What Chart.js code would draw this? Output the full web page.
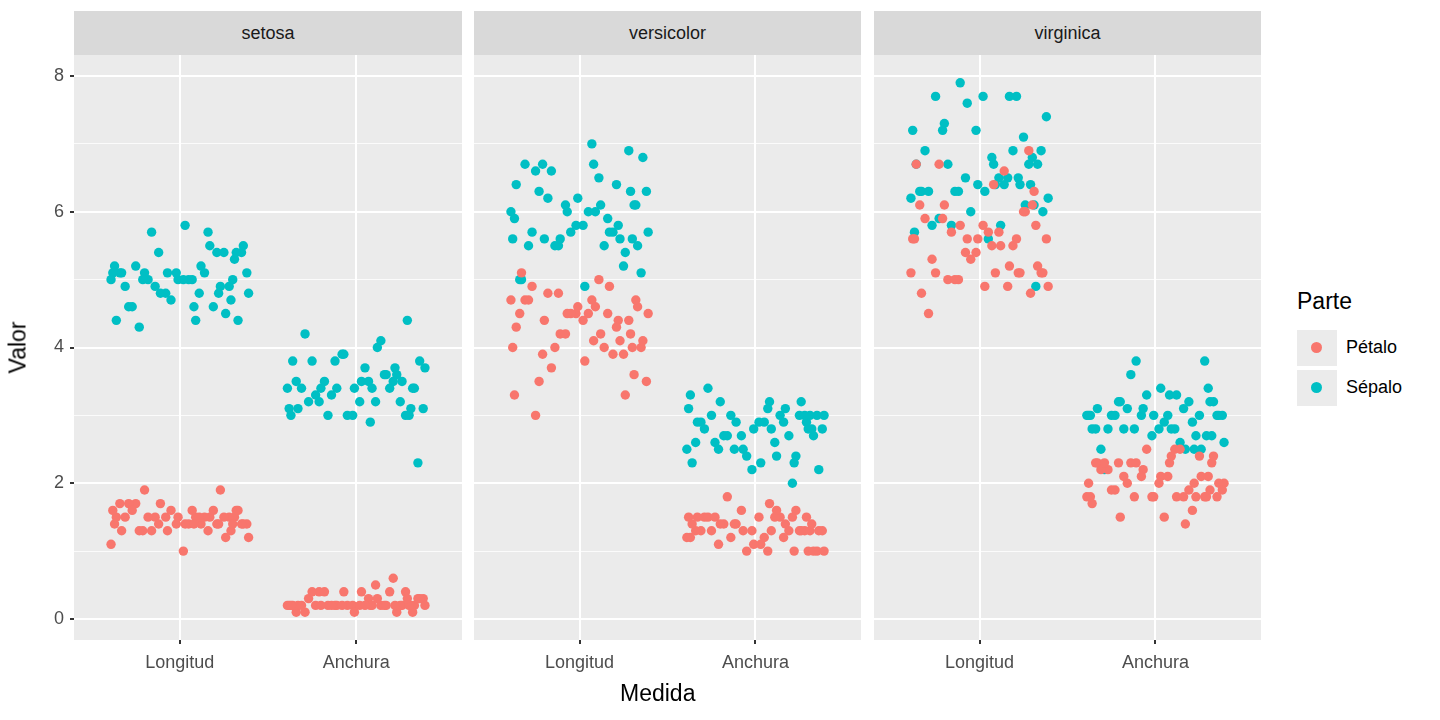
<!DOCTYPE html>
<html>
<head>
<meta charset="utf-8">
<script src="https://cdn.jsdelivr.net/npm/chart.js@4"></script>
<style>
  body { margin: 0; width: 1440px; height: 720px; background: #fff; font-family: Arial, "Liberation Sans", sans-serif; position: relative; overflow: hidden; }
  .panel { position: absolute; top: 55px; height: 635px; }
  .strip { position: absolute; top: 11px; height: 44px; background: #D9D9D9; color: #1A1A1A; font-size: 18px; line-height: 44px; text-align: center; }
  .title { position: absolute; color: #000; font-size: 23px; }
  .key { position: absolute; left: 1297px; width: 40px; height: 36px; background: #EBEBEB; }
  .key span { position: absolute; left: 14px; top: 12px; width: 11px; height: 11px; border-radius: 50%; }
  .klab { position: absolute; left: 1346px; font-size: 18px; color: #000; }
</style>
</head>
<body>
<div class="strip" style="left:74px;width:388px">setosa</div>
<div class="strip" style="left:474px;width:387px">versicolor</div>
<div class="strip" style="left:874px;width:387px">virginica</div>
<canvas id="p0" class="panel" style="left:0;width:462px"></canvas>
<canvas id="p1" class="panel" style="left:474px;width:387px"></canvas>
<canvas id="p2" class="panel" style="left:874px;width:387px"></canvas>
<div class="title" style="left:620px;top:680px">Medida</div>
<div class="title" style="left:-8px;top:334px;transform:rotate(-90deg)">Valor</div>
<div class="title" style="left:1297px;top:288px">Parte</div>
<div class="key" style="top:330px"><span style="background:#F8766D"></span></div>
<div class="key" style="top:370px"><span style="background:#00BFC4"></span></div>
<div class="klab" style="top:337px">Pétalo</div>
<div class="klab" style="top:377px">Sépalo</div>
<script>
const SPECIES = ['setosa', 'versicolor', 'virginica'];
const MEASURES = ['Longitud', 'Anchura'];
const PETAL_COLOR = '#F8766D';
const SEPAL_COLOR = '#00BFC4';

const sepalLength = [
  [5.1,4.9,4.7,4.6,5.0,5.4,4.6,5.0,4.4,4.9,5.4,4.8,4.8,4.3,5.8,5.7,5.4,5.1,5.7,5.1,5.4,5.1,4.6,5.1,4.8,5.0,5.0,5.2,5.2,4.7,4.8,5.4,5.2,5.5,4.9,5.0,5.5,4.9,4.4,5.1,5.0,4.5,4.4,5.0,5.1,4.8,5.1,4.6,5.3,5.0],
  [7.0,6.4,6.9,5.5,6.5,5.7,6.3,4.9,6.6,5.2,5.0,5.9,6.0,6.1,5.6,6.7,5.6,5.8,6.2,5.6,5.9,6.1,6.3,6.1,6.4,6.6,6.8,6.7,6.0,5.7,5.5,5.5,5.8,6.0,5.4,6.0,6.7,6.3,5.6,5.5,5.5,6.1,5.8,5.0,5.6,5.7,5.7,6.2,5.1,5.7],
  [6.3,5.8,7.1,6.3,6.5,7.6,4.9,7.3,6.7,7.2,6.5,6.4,6.8,5.7,5.8,6.4,6.5,7.7,7.7,6.0,6.9,5.6,7.7,6.3,6.7,7.2,6.2,6.1,6.4,7.2,7.4,7.9,6.4,6.3,6.1,7.7,6.3,6.4,6.0,6.9,6.7,6.9,5.8,6.8,6.7,6.7,6.3,6.5,6.2,5.9]
];
const sepalWidth = [
  [3.5,3.0,3.2,3.1,3.6,3.9,3.4,3.4,2.9,3.1,3.7,3.4,3.0,3.0,4.0,4.4,3.9,3.5,3.8,3.8,3.4,3.7,3.6,3.3,3.4,3.0,3.4,3.5,3.4,3.2,3.1,3.4,4.1,4.2,3.1,3.2,3.5,3.6,3.0,3.4,3.5,2.3,3.2,3.5,3.8,3.0,3.8,3.2,3.7,3.3],
  [3.2,3.2,3.1,2.3,2.8,2.8,3.3,2.4,2.9,2.7,2.0,3.0,2.2,2.9,2.9,3.1,3.0,2.7,2.2,2.5,3.2,2.8,2.5,2.8,2.9,3.0,2.8,3.0,2.9,2.6,2.4,2.4,2.7,2.7,3.0,3.4,3.1,2.3,3.0,2.5,2.6,3.0,2.6,2.3,2.7,3.0,2.9,2.9,2.5,2.8],
  [3.3,2.7,3.0,2.9,3.0,3.0,2.5,2.9,2.5,3.6,3.2,2.7,3.0,2.5,2.8,3.2,3.0,3.8,2.6,2.2,3.2,2.8,2.8,2.7,3.3,3.2,2.8,3.0,2.8,3.0,2.8,3.8,2.8,2.8,2.6,3.0,3.4,3.1,3.0,3.1,3.1,3.1,2.7,3.2,3.3,3.0,2.5,3.0,3.4,3.0]
];
const petalLength = [
  [1.4,1.4,1.3,1.5,1.4,1.7,1.4,1.5,1.4,1.5,1.5,1.6,1.4,1.1,1.2,1.5,1.3,1.4,1.7,1.5,1.7,1.5,1.0,1.7,1.9,1.6,1.6,1.5,1.4,1.6,1.6,1.5,1.5,1.4,1.5,1.2,1.3,1.4,1.3,1.5,1.3,1.3,1.3,1.6,1.9,1.4,1.6,1.4,1.5,1.4],
  [4.7,4.5,4.9,4.0,4.6,4.5,4.7,3.3,4.6,3.9,3.5,4.2,4.0,4.7,3.6,4.4,4.5,4.1,4.5,3.9,4.8,4.0,4.9,4.7,4.3,4.4,4.8,5.0,4.5,3.5,3.8,3.7,3.9,5.1,4.5,4.5,4.7,4.4,4.1,4.0,4.4,4.6,4.0,3.3,4.2,4.2,4.2,4.3,3.0,4.1],
  [6.0,5.1,5.9,5.6,5.8,6.6,4.5,6.3,5.8,6.1,5.1,5.3,5.5,5.0,5.1,5.3,5.5,6.7,6.9,5.0,5.7,4.9,6.7,4.9,5.7,6.0,4.8,4.9,5.6,5.8,6.1,6.4,5.6,5.1,5.6,6.1,5.6,5.5,4.8,5.4,5.6,5.1,5.1,5.9,5.7,5.2,5.0,5.2,5.4,5.1]
];
const petalWidth = [
  [0.2,0.2,0.2,0.2,0.2,0.4,0.3,0.2,0.2,0.1,0.2,0.2,0.1,0.1,0.2,0.4,0.4,0.3,0.3,0.3,0.2,0.4,0.2,0.5,0.2,0.2,0.4,0.2,0.2,0.2,0.2,0.4,0.1,0.2,0.2,0.2,0.2,0.1,0.2,0.2,0.3,0.3,0.2,0.6,0.4,0.3,0.2,0.2,0.2,0.2],
  [1.4,1.5,1.5,1.3,1.5,1.3,1.6,1.0,1.3,1.4,1.0,1.5,1.0,1.4,1.3,1.4,1.5,1.0,1.5,1.1,1.8,1.3,1.5,1.2,1.3,1.4,1.4,1.7,1.5,1.0,1.1,1.0,1.2,1.6,1.5,1.6,1.5,1.3,1.3,1.3,1.2,1.4,1.2,1.0,1.3,1.2,1.3,1.3,1.1,1.3],
  [2.5,1.9,2.1,1.8,2.2,2.1,1.7,1.8,1.8,2.5,2.0,1.9,2.1,2.0,2.4,2.3,1.8,2.2,2.3,1.5,2.3,2.0,2.0,1.8,2.1,1.8,1.8,1.8,2.1,1.6,1.9,2.0,2.2,1.5,1.4,2.3,2.4,1.8,1.8,2.1,2.4,2.3,1.9,2.3,2.5,2.3,1.9,2.0,2.3,1.8]
];
// fixed horizontal jitter offsets (category units)
const JITTER = [-0.37,0.12,0.29,-0.08,0.21,-0.25,0.36,-0.31,0.05,0.17,-0.14,0.33,-0.02,-0.39,0.26,0.09,-0.21,0.38,-0.11,0.14,
  -0.29,0.31,0.02,-0.34,0.23,-0.05,0.19,-0.18,0.35,-0.27,0.07,-0.36,0.28,-0.12,0.11,0.39,-0.23,0.03,-0.16,0.25,
  -0.33,0.16,-0.07,0.32,-0.2,0.08,-0.38,0.22,-0.01,0.3];

const bgPlugin = {
  id: 'bg',
  beforeDraw(chart) {
    const a = chart.chartArea, c = chart.ctx;
    c.save(); c.fillStyle = '#EBEBEB';
    c.fillRect(a.left, a.top, a.right - a.left, a.bottom - a.top);
    c.restore();
  }
};

function pts(vals, xpos, shift) {
  return vals.map((v, i) => ({ x: xpos + JITTER[(i + shift) % JITTER.length], y: v }));
}

function makePanel(id, s) {
  const first = s === 0;
  const petal = pts(petalLength[s], 1, s * 7).concat(pts(petalWidth[s], 2, s * 7 + 11));
  const sepal = pts(sepalLength[s], 1, s * 7 + 23).concat(pts(sepalWidth[s], 2, s * 7 + 37));
  new Chart(document.getElementById(id), {
    type: 'scatter',
    plugins: [bgPlugin],
    data: {
      datasets: [
        { label: 'Pétalo', data: petal, backgroundColor: PETAL_COLOR, borderWidth: 0, pointRadius: 4.7 },
        { label: 'Sépalo', data: sepal, backgroundColor: SEPAL_COLOR, borderWidth: 0, pointRadius: 4.7 }
      ]
    },
    options: {
      animation: false, responsive: false, maintainAspectRatio: false,
      layout: { padding: 0, autoPadding: false },
      plugins: { legend: { display: false }, tooltip: { enabled: false } },
      scales: {
        x: {
          type: 'linear', min: 0.4, max: 2.6,
          afterBuildTicks: sc => { sc.ticks = [{ value: 1 }, { value: 2 }]; },
          afterFit: sc => { sc.height = 50; sc.paddingLeft = 0; sc.paddingRight = 0; },
          border: { display: false },
          grid: { color: '#fff', lineWidth: 2, tickColor: '#333', tickLength: 4 },
          ticks: { color: '#4D4D4D', font: { size: 18, family: 'Arial' }, padding: 8, callback: v => MEASURES[v - 1] }
        },
        y: {
          min: -0.31, max: 8.31,
          afterBuildTicks: sc => { sc.ticks = [0,1,2,3,4,5,6,7,8].map(v => ({ value: v })); },
          afterFit: sc => { sc.width = first ? 74 : 0; sc.paddingTop = 0; sc.paddingBottom = 0; },
          border: { display: false },
          grid: {
            color: '#fff',
            lineWidth: c => (c.tick && c.tick.value % 2 === 0) ? 2 : 0.8,
            drawTicks: first,
            tickColor: c => (c.tick && c.tick.value % 2 === 0) ? '#333' : 'rgba(0,0,0,0)',
            tickLength: 4
          },
          ticks: { display: first, color: '#4D4D4D', font: { size: 18, family: 'Arial' }, padding: 6,
                   callback: v => v % 2 === 0 ? String(v) : '' }
        }
      }
    }
  });
}

const c0 = document.getElementById('p0'); c0.width = 462; c0.height = 635;
const c1 = document.getElementById('p1'); c1.width = 387; c1.height = 635;
const c2 = document.getElementById('p2'); c2.width = 387; c2.height = 635;
SPECIES.forEach((sp, s) => makePanel('p' + s, s));
</script>
</body>
</html>
